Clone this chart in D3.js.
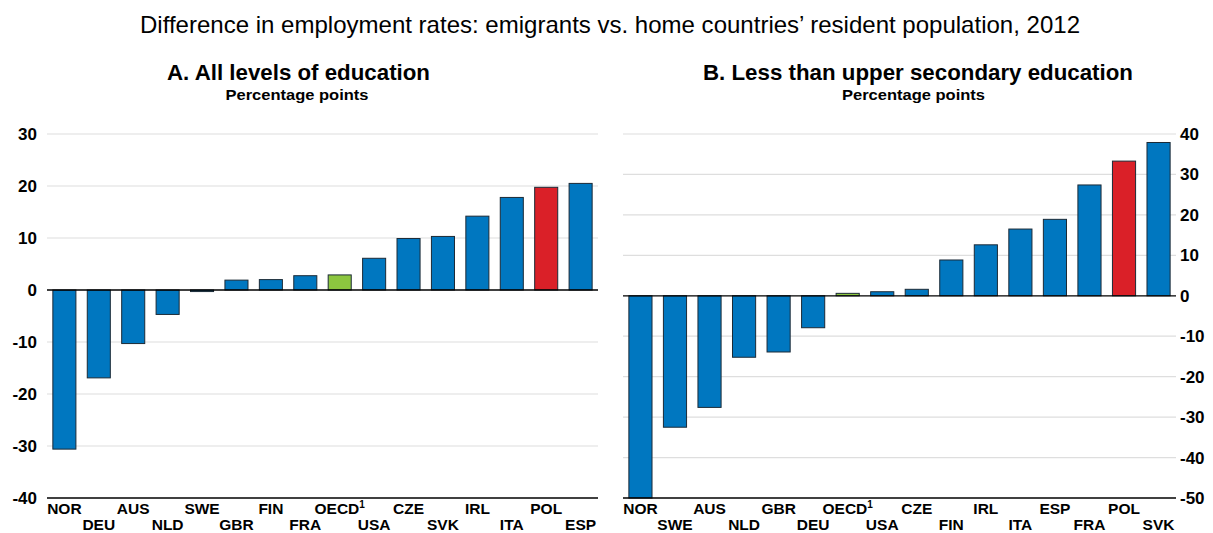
<!DOCTYPE html>
<html lang="en">
<head>
<meta charset="UTF-8">
<title>Difference in employment rates</title>
<style>
  body { margin: 0; background: #fff; font-family: "Liberation Sans", Arial, sans-serif; }
  .grid line { stroke: #dedede; stroke-width: 1.2px; }
  .tick-label { font-size: 17px; font-weight: bold; fill: #000; }
  .cat-label { font-size: 15.5px; font-weight: bold; fill: #000; }
  .bar { stroke: #1c2a36; stroke-width: 1px; }
</style>
</head>
<body>
<svg width="1213" height="533"></svg>
<script src="https://d3js.org/d3.v7.min.js"></script>
<script>
// Panel A: all levels of education
const catsA = ["NOR","DEU","AUS","NLD","SWE","GBR","FIN","FRA","OECD","USA","CZE","SVK","IRL","ITA","POL","ESP"];
const valsA = [-30.6,-16.9,-10.3,-4.7,-0.3,1.9,2.0,2.75,2.9,6.1,9.9,10.3,14.2,17.8,19.75,20.5];
const ticksA = [-40,-30,-20,-10,0,10,20,30];

// Panel B: less than upper secondary education
const catsB = ["NOR","SWE","AUS","NLD","GBR","DEU","OECD","USA","CZE","FIN","IRL","ITA","ESP","FRA","POL","SVK"];
const valsB = [-50,-32.5,-27.6,-15.2,-13.9,-7.9,0.6,1.0,1.6,8.85,12.6,16.5,18.9,27.4,33.3,37.9];
const ticksB = [-50,-40,-30,-20,-10,0,10,20,30,40];

const blue = "#0077c0", red = "#da2028", green = "#8cc63f";
const barColor = c => c === "POL" ? red : (c === "OECD" ? green : blue);

const svg = d3.select("svg");

svg.append("text")
  .attr("x", 610).attr("y", 33)
  .attr("text-anchor", "middle")
  .attr("textLength", 940).attr("lengthAdjust", "spacingAndGlyphs")
  .style("font-size", "24px")
  .text("Difference in employment rates: emigrants vs. home countries\u2019 resident population, 2012");

function panel(opts) {
  const { cats, vals, ticks, x0, x1, title, titleX, titleW, subX, axisRight } = opts;
  const y = d3.scaleLinear().domain([ticks[0], ticks[ticks.length - 1]]).range([498, 134]);
  const x = d3.scaleBand().domain(cats).range([x0, x1]).paddingInner(0.33).paddingOuter(0.17);
  const g = svg.append("g");

  g.append("text").attr("x", titleX).attr("y", 80).attr("text-anchor", "middle")
    .attr("textLength", titleW).attr("lengthAdjust", "spacingAndGlyphs")
    .style("font-size", "21.5px").style("font-weight", "bold").text(title);
  g.append("text").attr("x", subX).attr("y", 100).attr("text-anchor", "middle")
    .attr("textLength", 143).attr("lengthAdjust", "spacingAndGlyphs")
    .style("font-size", "15px").style("font-weight", "bold").text("Percentage points");

  g.append("g").attr("class", "grid")
    .selectAll("line").data(ticks.filter(t => t !== 0 && t !== ticks[0])).join("line")
    .attr("x1", x0).attr("x2", x1)
    .attr("y1", d => y(d)).attr("y2", d => y(d));

  g.selectAll(".tick-label").data(ticks).join("text")
    .attr("class", "tick-label")
    .attr("x", axisRight ? x1 + 4 : x0 - 10)
    .attr("y", d => y(d) + 6)
    .attr("text-anchor", axisRight ? "start" : "end")
    .text(d => d);

  g.selectAll(".bar").data(cats).join("rect")
    .attr("class", "bar")
    .attr("x", d => x(d))
    .attr("width", x.bandwidth())
    .attr("y", (d, i) => y(Math.max(0, vals[i])))
    .attr("height", (d, i) => Math.abs(y(vals[i]) - y(0)))
    .attr("fill", d => barColor(d));

  g.append("line").attr("x1", x0).attr("x2", x1)
    .attr("y1", y(0)).attr("y2", y(0)).attr("stroke", "#000").attr("stroke-width", 1.3);
  g.append("line").attr("x1", x0).attr("x2", x1)
    .attr("y1", y(ticks[0])).attr("y2", y(ticks[0])).attr("stroke", "#000").attr("stroke-width", 1.3);

  const lab = g.selectAll(".cat-label").data(cats).join("text")
    .attr("class", "cat-label")
    .attr("x", d => x(d) + x.bandwidth() / 2)
    .attr("y", (d, i) => i % 2 === 0 ? 514 : 530)
    .attr("text-anchor", "middle");
  lab.each(function (d) {
    const t = d3.select(this);
    if (d === "OECD") {
      t.append("tspan").text("OECD");
      t.append("tspan").attr("dy", -6).style("font-size", "10px").text("1");
    } else {
      t.text(d);
    }
  });
}

panel({ cats: catsA, vals: valsA, ticks: ticksA, x0: 47, x1: 598,
        title: "A. All levels of education", titleX: 298.5, titleW: 263,
        subX: 297, axisRight: false });
panel({ cats: catsB, vals: valsB, ticks: ticksB, x0: 623, x1: 1176,
        title: "B. Less than upper secondary education", titleX: 918, titleW: 430,
        subX: 913.5, axisRight: true });
</script>
</body>
</html>
